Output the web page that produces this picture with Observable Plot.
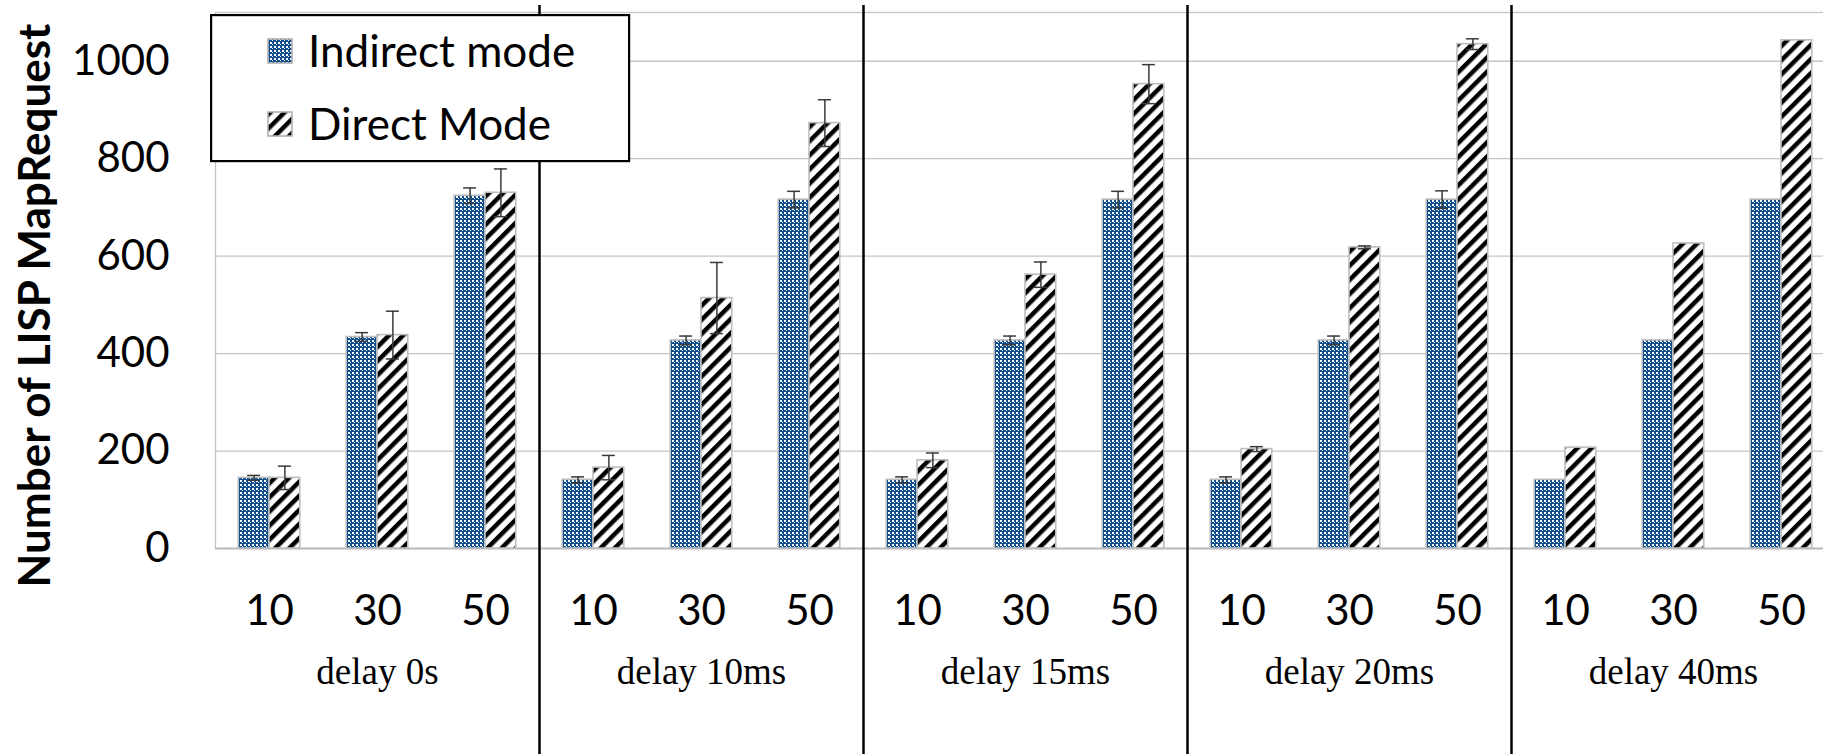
<!DOCTYPE html>
<html>
<head>
<meta charset="utf-8">
<script src="https://cdn.jsdelivr.net/npm/d3@7"></script>
<script src="https://cdn.jsdelivr.net/npm/@observablehq/plot@0.6"></script>
<style>
  html, body { margin: 0; padding: 0; overflow: hidden; background: #fff; }
  #wrap { position: relative; width: 1823px; height: 754px; overflow: hidden; }
  #legend { position: absolute; left: 210px; top: 14px; }
</style>
</head>
<body>
<div id="wrap"></div>
<script>
// ---- data ----
const delays = ["delay 0s", "delay 10ms", "delay 15ms", "delay 20ms", "delay 40ms"];
const sizes = ["10", "30", "50"];
const seriesNames = ["Indirect mode", "Direct Mode"];
const indirect    = [145, 434, 724,  141, 427, 716,  141, 427, 716,  141, 427, 716,  141, 427, 716];
const direct      = [145, 438, 730,  166, 514, 873,  181, 562, 953,  204, 618, 1035, 207, 626, 1043];
const indirectErr = [5, 9, 16,  6, 9, 17,  6, 9, 17,  6, 9, 18,  0, 0, 0];
const directErr   = [24, 49, 49,  25, 73, 48,  15, 26, 40,  5, 3, 11,  0, 0, 0];
const yTicks = [0, 200, 400, 600, 800, 1000];
const yTitle = "Number of LISP MapRequest";

// ---- tables built from the arrays ----
const nCat = delays.length * sizes.length;
const cats = [];
delays.forEach((delay, g) => sizes.forEach((size, k) => cats.push({i: g * sizes.length + k, g, size, delay})));
const groups = delays.map((delay, g) => ({g, delay}));
const separators = d3.range(1, delays.length).map(g => g * sizes.length);

const barW = 0.285, capHalf = 0.06;
function seriesRows(values, errs, side) {
  return cats.map(c => ({...c, value: values[c.i], err: errs[c.i], side,
    x1: c.i + 0.5 - (side === 0 ? barW : 0),
    x2: c.i + 0.5 + (side === 0 ? 0 : barW)}));
}
const indRows = seriesRows(indirect, indirectErr, 0);
const dirRows = seriesRows(direct, directErr, 1);
const errRows = [...indRows, ...dirRows].filter(d => d.err > 0).map(d => ({...d, cx: (d.x1 + d.x2) / 2}));

const defs = () => {
  const g = d3.create("svg:defs");
  const chk = g.append("pattern").attr("id", "chk").attr("width", 4).attr("height", 4).attr("patternUnits", "userSpaceOnUse");
  chk.append("rect").attr("width", 4).attr("height", 4).attr("fill", "#0f4f90");
  chk.append("rect").attr("width", 2).attr("height", 2).attr("fill", "#ffffff");
  chk.append("rect").attr("x", 2).attr("y", 2).attr("width", 1).attr("height", 1).attr("fill", "#ffffff");
  const dg = g.append("pattern").attr("id", "diag").attr("width", 10).attr("height", 10)
    .attr("patternUnits", "userSpaceOnUse").attr("patternTransform", "rotate(45)");
  dg.append("rect").attr("width", 10).attr("height", 10).attr("fill", "#ffffff");
  dg.append("rect").attr("width", 4.5).attr("height", 10).attr("fill", "#000000");
  return g.node();
};

const chart = Plot.plot({
  width: 1836,
  height: 754,
  marginLeft: 215,
  marginRight: 1,
  marginTop: 12,
  marginBottom: 206,
  style: {fontFamily: "Lato", maxWidth: "none", background: "#fff", color: "#000"},
  x: {type: "linear", domain: [0, nCat], axis: null},
  y: {domain: [0, 1100]},
  marks: [
    defs,
    Plot.frame({stroke: "#c4c4c4", strokeWidth: 1.3}),
    Plot.ruleY(yTicks.filter(v => v > 0), {stroke: "#c4c4c4", strokeWidth: 1.3}),
    Plot.ruleY([0], {stroke: "#bcbcbc", strokeWidth: 2.2}),
    Plot.rect(indRows, {x1: "x1", x2: "x2", y1: 0, y2: "value", fill: "url(#chk)", stroke: "#bdbdbd", strokeWidth: 1.6}),
    Plot.rect(dirRows, {x1: "x1", x2: "x2", y1: 0, y2: "value", fill: "url(#diag)", stroke: "#bdbdbd", strokeWidth: 1.6}),
    Plot.ruleX(errRows, {x: "cx", y1: d => d.value - d.err, y2: d => d.value + d.err, stroke: "#3a3a3a", strokeWidth: 1.5}),
    Plot.ruleY(errRows, {y: d => d.value + d.err, x1: d => d.cx - capHalf, x2: d => d.cx + capHalf, stroke: "#3a3a3a", strokeWidth: 1.5}),
    Plot.ruleY(errRows, {y: d => d.value - d.err, x1: d => d.cx - capHalf, x2: d => d.cx + capHalf, stroke: "#3a3a3a", strokeWidth: 1.5}),
    Plot.ruleX(separators, {stroke: "#000", strokeWidth: 2.5, insetTop: -7, insetBottom: -206}),
    Plot.axisY({ticks: yTicks, tickFormat: d3.format("d"), tickSize: 0, tickPadding: 46, fontSize: 42, label: null}),
    Plot.text(cats, {x: d => d.i + 0.5, text: "size", frameAnchor: "bottom", dy: 63, fontSize: 42, lineAnchor: "middle"}),
    Plot.text(groups, {x: d => (d.g + 0.5) * sizes.length, text: "delay", frameAnchor: "bottom", dy: 124,
      fontFamily: "Liberation Serif", fontSize: 37, lineAnchor: "middle"}),
    Plot.text([yTitle], {frameAnchor: "left", textAnchor: "middle", rotate: -90, dx: -180, dy: 25,
      fontWeight: "bold", fontSize: 44, lineAnchor: "middle"})
  ]
});

const wrap = document.getElementById("wrap");
wrap.appendChild(chart);

// legend overlay
const leg = d3.select(wrap).append("svg").attr("id", "legend").attr("width", 421).attr("height", 149)
  .style("font-family", "Lato");
leg.append("rect").attr("x", 1.1).attr("y", 1.1).attr("width", 418).attr("height", 146)
  .attr("fill", "#fff").attr("stroke", "#000").attr("stroke-width", 2.2);
const fills = ["url(#chk)", "url(#diag)"];
const rowsY = [37, 110];
seriesNames.forEach((name, j) => {
  leg.append("rect").attr("x", 58).attr("y", rowsY[j] - 12).attr("width", 24).attr("height", 24)
    .attr("fill", fills[j]).attr("stroke", "#b0b0b0").attr("stroke-width", 1.6);
  leg.append("text").attr("x", 98).attr("y", rowsY[j]).attr("dy", "0.36em")
    .attr("font-size", 44).attr("fill", "#000").text(name);
});
</script>
</body>
</html>
